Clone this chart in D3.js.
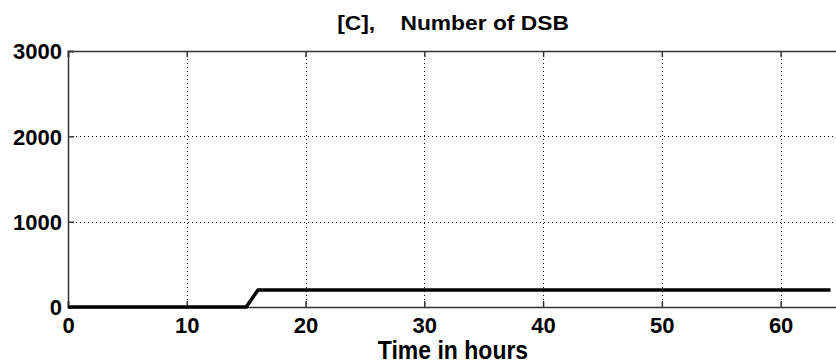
<!DOCTYPE html>
<html>
<head>
<meta charset="utf-8">
<script src="https://cdn.jsdelivr.net/npm/d3@7"></script>
<style>
  html, body { margin: 0; padding: 0; background: #fff; }
  svg { display: block; font-family: "Liberation Sans", Arial, sans-serif; font-weight: bold; }
</style>
</head>
<body>
<svg id="chart" width="836" height="364"></svg>
<script>
// Number of double-strand breaks over time
const timeHours = [0, 15, 16, 64.2];
const dsbCount  = [0, 0, 200, 200];
const xTicks = [0, 10, 20, 30, 40, 50, 60];
const yTicks = [0, 1000, 2000, 3000];
const titleText = "[C],    Number of DSB";
const xLabelText = "Time in hours";

const svg = d3.select("#chart");
const margin = { left: 68, top: 51, bottom: 307, right: 840 };

const x = d3.scaleLinear().domain([0, 65]).range([margin.left, margin.right]);
const y = d3.scaleLinear().domain([0, 3000]).range([margin.bottom, margin.top]);

// dotted grid
const grid = svg.append("g").attr("stroke", "#000").attr("stroke-width", 1)
  .attr("stroke-dasharray", "1,3").attr("shape-rendering", "crispEdges");
grid.selectAll("line.v").data(xTicks.filter(d => d > 0)).join("line")
  .attr("class", "v")
  .attr("x1", d => Math.round(x(d)) + 0.5).attr("x2", d => Math.round(x(d)) + 0.5)
  .attr("y1", y(3000)).attr("y2", y(0));
grid.selectAll("line.h").data(yTicks.filter(d => d > 0 && d < 3000)).join("line")
  .attr("class", "h")
  .attr("x1", x(0)).attr("x2", x(65))
  .attr("y1", d => Math.round(y(d)) + 0.5).attr("y2", d => Math.round(y(d)) + 0.5);

// axes (inward ticks, box on top)
const axisColor = "#333";
const xAxis = svg.append("g").attr("transform", `translate(0,${y(0)})`)
  .call(d3.axisBottom(x).tickValues(xTicks).tickSize(-6).tickPadding(10).tickFormat(d3.format("d")));
const xTop = svg.append("g").attr("transform", `translate(0,${y(3000)})`)
  .call(d3.axisTop(x).tickValues(xTicks).tickSize(-6).tickFormat(""));
const yAxis = svg.append("g").attr("transform", `translate(${x(0)},0)`)
  .call(d3.axisLeft(y).tickValues(yTicks).tickSize(-6).tickPadding(6).tickFormat(d3.format("d")));

[xAxis, xTop, yAxis].forEach(g => {
  g.select(".domain").attr("stroke", axisColor).attr("stroke-width", 1.5);
  g.selectAll(".tick line").attr("stroke", axisColor).attr("stroke-width", 1.5);
  g.selectAll(".tick text").attr("fill", "#000").style("font-size", "22px")
    .style("font-family", "'Liberation Sans', Arial, sans-serif").style("font-weight", "bold");
});
xAxis.selectAll(".tick text").attr("dy", "0.71em");
yAxis.selectAll(".tick text").attr("dy", "0.36em");

// data line
const line = d3.line().x((d, i) => x(timeHours[i])).y((d, i) => y(dsbCount[i]));
svg.append("path").datum(dsbCount)
  .attr("d", line).attr("fill", "none").attr("stroke", "#000")
  .attr("stroke-width", 3.5).attr("stroke-linejoin", "miter");

// title and axis label
svg.append("text").attr("transform", "translate(453,30) scale(1.14,1)")
  .attr("text-anchor", "middle")
  .style("font-size", "20px").style("white-space", "pre").attr("xml:space", "preserve")
  .text(titleText);
svg.append("text").attr("transform", "translate(453,359) scale(1,1.12)")
  .attr("text-anchor", "middle")
  .style("font-size", "23px").text(xLabelText);
</script>
</body>
</html>
